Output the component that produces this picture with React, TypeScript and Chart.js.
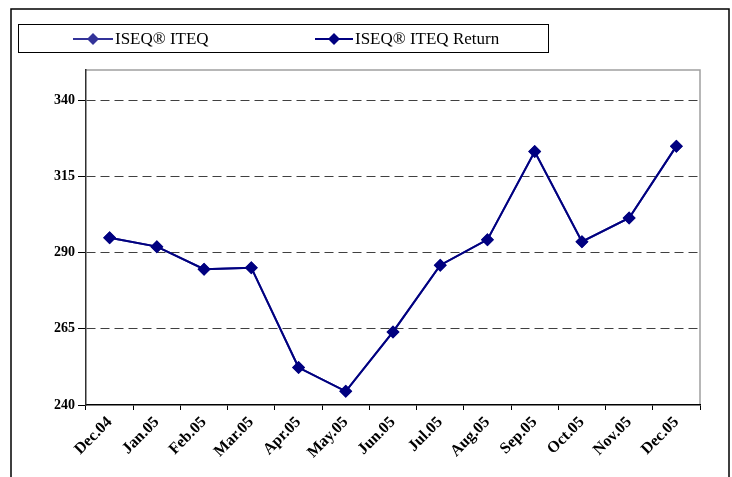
import React, { useEffect, useRef } from "react";
import { Chart, registerables } from "chart.js";

Chart.register(...registerables);

const categories = ["Dec.04", "Jan.05", "Feb.05", "Mar.05", "Apr.05", "May.05", "Jun.05", "Jul.05", "Aug.05", "Sep.05", "Oct.05", "Nov.05", "Dec.05"];
const iseqIteq = [294.9, 292.0, 284.6, 285.1, 252.3, 244.5, 264.0, 285.9, 294.3, 323.2, 293.6, 301.4, 325.0];
const iseqIteqReturn = [294.9, 292.0, 284.6, 285.1, 252.3, 244.5, 264.0, 285.9, 294.3, 323.2, 293.6, 301.4, 325.0];
const seriesLabels = ["ISEQ® ITEQ", "ISEQ® ITEQ Return"];
const seriesColors = ["#333399", "#000080"];
const yMin = 240;
const yMax = 350;
const yStep = 25;

const SERIF = "'Liberation Serif', 'Times New Roman', serif";

function diamond(ctx: CanvasRenderingContext2D, x: number, y: number, r: number, color: string) {
  ctx.beginPath();
  ctx.moveTo(x, y - r);
  ctx.lineTo(x + r, y);
  ctx.lineTo(x, y + r);
  ctx.lineTo(x - r, y);
  ctx.closePath();
  ctx.fillStyle = color;
  ctx.fill();
}

const framePlugin = {
  id: "frame",
  beforeDraw(chart: any) {
    const ctx = chart.ctx as CanvasRenderingContext2D;
    const a = chart.chartArea;
    ctx.save();
    ctx.fillStyle = "#ffffff";
    ctx.fillRect(0, 0, chart.width, chart.height);
    // outer frame
    ctx.strokeStyle = "#000000";
    ctx.lineWidth = 1.5;
    ctx.beginPath();
    ctx.moveTo(11, chart.height + 5);
    ctx.lineTo(11, 9);
    ctx.lineTo(729, 9);
    ctx.lineTo(729, chart.height + 5);
    ctx.stroke();
    // plot area border (top/right gray)
    ctx.strokeStyle = "#a0a0a0";
    ctx.lineWidth = 1.5;
    ctx.beginPath();
    ctx.moveTo(a.left, a.top);
    ctx.lineTo(a.right, a.top);
    ctx.lineTo(a.right, a.bottom);
    ctx.stroke();
    // legend box
    ctx.strokeStyle = "#000000";
    ctx.lineWidth = 1;
    ctx.strokeRect(18.5, 24.5, 530, 28);
    const ly = 39;
    const items = [
      { x0: 73, x1: 113, tx: 115 },
      { x0: 315, x1: 353, tx: 355 },
    ];
    chart.data.datasets.forEach((ds: any, i: number) => {
      const it = items[i];
      ctx.strokeStyle = seriesColors[i];
      ctx.lineWidth = 2;
      ctx.beginPath();
      ctx.moveTo(it.x0, ly);
      ctx.lineTo(it.x1, ly);
      ctx.stroke();
      diamond(ctx, (it.x0 + it.x1) / 2, ly, 6, seriesColors[i]);
      ctx.fillStyle = "#000000";
      ctx.font = `17px ${SERIF}`;
      ctx.textBaseline = "middle";
      ctx.textAlign = "left";
      ctx.fillText(ds.label, it.tx, ly + 1);
    });
    ctx.restore();
  },
};

export default function App() {
  const ref = useRef<HTMLCanvasElement | null>(null);
  useEffect(() => {
    if (!ref.current) return;
    const chart = new Chart(ref.current, {
      type: "line",
      data: {
        labels: categories,
        datasets: [
          {
            label: seriesLabels[0],
            data: iseqIteq,
            borderColor: seriesColors[0],
            backgroundColor: seriesColors[0],
            borderWidth: 2,
            pointStyle: "rectRot",
            pointRadius: 6.5,
            pointBorderWidth: 0,
            tension: 0,
            order: 1,
          },
          {
            label: seriesLabels[1],
            data: iseqIteqReturn,
            borderColor: seriesColors[1],
            backgroundColor: seriesColors[1],
            borderWidth: 2,
            pointStyle: "rectRot",
            pointRadius: 6.5,
            pointBorderWidth: 0,
            tension: 0,
            order: 0,
          },
        ],
      },
      options: {
        animation: false,
        responsive: false,
        maintainAspectRatio: false,
        layout: { padding: { left: 0, right: 32, top: 70, bottom: 0 } },
        plugins: {
          legend: { display: false },
          tooltip: { enabled: false },
        },
        scales: {
          x: {
            offset: true,
            afterFit: (s: any) => {
              s.height = 72;
            },
            grid: {
              offset: true,
              drawOnChartArea: false,
              drawTicks: true,
              tickLength: 5,
              tickColor: "#000000",
              tickWidth: 1,
            },
            border: { color: "#000000", width: 1.5 },
            ticks: {
              autoSkip: false,
              minRotation: 45,
              maxRotation: 45,
              padding: 3,
              color: "#000000",
              font: { family: SERIF, size: 16, weight: "bold" },
            },
          },
          y: {
            min: yMin,
            max: yMax,
            afterFit: (s: any) => {
              s.width = 86;
            },
            afterBuildTicks: (s: any) => {
              const t = [];
              for (let v = yMin; v <= yMax; v += yStep) t.push({ value: v });
              s.ticks = t;
            },
            grid: {
              color: (c: any) => (c.tick && c.tick.value === yMin ? "rgba(0,0,0,0)" : "#404040"),
              lineWidth: 1,
              drawTicks: true,
              tickLength: 8,
              tickColor: "#000000",
              tickBorderDash: [1, 0],
            },
            border: { color: "#303030", width: 1.5, dash: [9, 5] },
            ticks: {
              stepSize: yStep,
              padding: 3,
              color: "#000000",
              font: { family: SERIF, size: 14, weight: "bold" },
            },
          },
        },
      },
      plugins: [framePlugin],
    } as any);
    return () => chart.destroy();
  }, []);
  return (
    <div style={{ position: "absolute", left: 0, top: 0, width: 732, height: 477 }}>
      <canvas ref={ref} width={732} height={477} style={{ width: 732, height: 477, display: "block" }} />
    </div>
  );
}
